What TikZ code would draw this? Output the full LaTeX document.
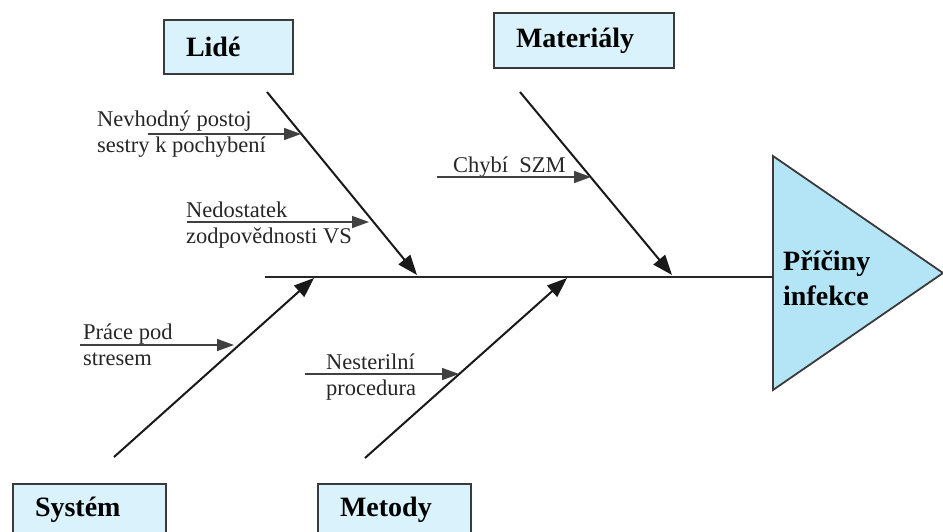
\documentclass[tikz,border=0pt]{standalone}
\usepackage{fontspec}
\setmainfont{Liberation Serif}
\usetikzlibrary{arrows.meta,calc}
\definecolor{boxfill}{HTML}{DAF2FB}
\definecolor{headfill}{HTML}{B3E5F6}
\definecolor{edge}{HTML}{3A3A3A}

\begin{document}
\begin{tikzpicture}[x=1pt,y=-1pt,
  catbox/.style={draw=edge, line width=2pt, fill=boxfill, inner xsep=22pt,
    align=left, anchor=north west, font=\fontsize{28}{32}\selectfont\bfseries,
    append after command={
      \pgfextra{\draw[white, line width=1pt]
        ($(\tikzlastnode.south west)+(2.6,-2.6)$) rectangle
        ($(\tikzlastnode.north east)+(-2.6,2.6)$);}}},
  bone/.style={line width=2pt, draw=black!90, -{Triangle[length=20pt,width=15pt]}},
  twig/.style={line width=1.5pt, draw=black!75, -{Triangle[length=17pt,width=12pt]}},
  cause/.style={font=\fontsize{22.5}{26}\selectfont, anchor=base west, inner sep=0pt,
    text=black!85, align=left}
]
\useasboundingbox (0,0) rectangle (943,531);

% category boxes
\node[catbox, text width=85pt,  minimum height=54pt] (lide) at (163,19)  {Lidé};
\node[catbox, text width=136pt, minimum height=55pt] (mat)  at (493,12)  {Materiály};
\node[catbox, text width=109pt, minimum height=52pt] (sys)  at (12,483)  {Systém};
\node[catbox, text width=109pt, minimum height=52pt] (met)  at (317,483) {Metody};

% effect head
\coordinate (hA) at (773,156);
\coordinate (hB) at (943,273);
\coordinate (hC) at (773,390);
\coordinate (hL) at (773,277);
\draw[draw=edge, line width=1.8pt, fill=headfill, line join=miter] (hA) -- (hB) -- (hC) -- cycle;
\node[anchor=base west, inner sep=0pt, align=left,
      font=\fontsize{28}{35}\selectfont\bfseries] (eff) at (783,305) {Příčiny\\infekce};

% spine
\coordinate (sp0) at (265,277);
\draw[line width=2pt, draw=black!85] (sp0) -- (hL);

% main bones
\coordinate (lideA) at (267,92);  \coordinate (lideB) at (417,275);
\coordinate (matA)  at (520,92);  \coordinate (matB)  at (672,275);
\coordinate (sysA)  at (114,457); \coordinate (sysB)  at (314,278);
\coordinate (metA)  at (365,458); \coordinate (metB)  at (567,278);
\draw[bone] (lideA) -- (lideB);
\draw[bone] (matA) -- (matB);
\draw[bone] (sysA) -- (sysB);
\draw[bone] (metA) -- (metB);

% sub-causes (anchored at the baseline of the last line)
\node[cause] (nev) at (97,152)  {Nevhodný postoj\\sestry k pochybení};
\node[cause] (ned) at (186,243) {Nedostatek\\zodpovědnosti VS};
\node[cause] (chy) at (453,172) {Chybí\ \ SZM};
\node[cause] (pra) at (83,365)  {Práce pod\\stresem};
\node[cause] (nes) at (326,395) {Nesterilní\\procedura};

\coordinate (nev0) at (148,134); \coordinate (nev1) at (301,134);
\coordinate (ned0) at (187,222); \coordinate (ned1) at (369,222);
\coordinate (chy0) at (437,177); \coordinate (chy1) at (591,177);
\coordinate (pra0) at (80,345);  \coordinate (pra1) at (234,345);
\coordinate (nes0) at (305,374); \coordinate (nes1) at (459,374);
\draw[twig] (nev0) -- (nev1);
\draw[twig] (ned0) -- (ned1);
\draw[twig] (chy0) -- (chy1);
\draw[twig] (pra0) -- (pra1);
\draw[twig] (nes0) -- (nes1);
\end{tikzpicture}
\end{document}
